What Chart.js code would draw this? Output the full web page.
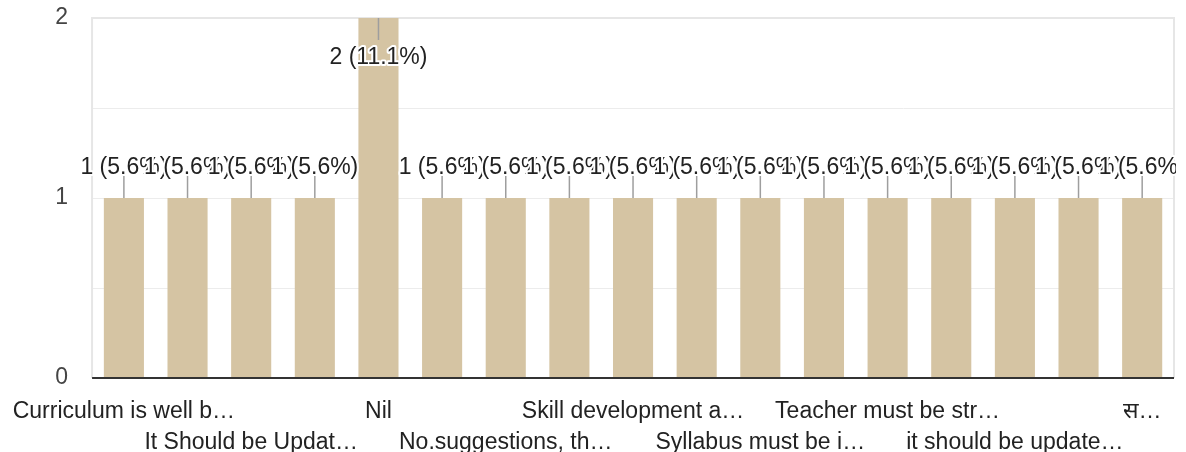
<!DOCTYPE html>
<html>
<head>
<meta charset="utf-8">
<title>Responses</title>
<script src="https://cdn.jsdelivr.net/npm/chart.js@4.4.1/dist/chart.umd.min.js"></script>
<style>
    html, body { margin: 0; padding: 0; background: #fff; }
    #wrap { width: 1186px; height: 452px; }
</style>
</head>
<body>
<div id="wrap"><canvas id="answersChart" width="1186" height="452"></canvas></div>
<script>
// answers (labels as shown, already cut by the form); odd ones are hidden on the axis
const categories = [
    'Curriculum is well b\u2026', 'Good', 'It Should be Updat\u2026', 'Need more practicals',
    'Nil', 'No', 'No.suggestions, th\u2026', 'Nothing', 'Skill development a\u2026',
    'Syllabus is good', 'Syllabus must be i\u2026', 'Syllabus should be practical',
    'Teacher must be str\u2026', 'Very good', 'it should be update\u2026', 'no suggestion',
    '\u0938\u2026'
];
const counts = [1, 1, 1, 1, 2, 1, 1, 1, 1, 1, 1, 1, 1, 1, 1, 1, 1];
const yTicks = [0, 1, 2];

const FONT = "'Liberation Sans', Arial, 'Noto Sans', 'DejaVu Sans', sans-serif";
const total = counts.reduce((a, b) => a + b, 0);

// frame round the plot + dark zero line
const framePlugin = {
    id: 'frame',
    beforeDatasetsDraw(chart) {
        const a = chart.chartArea;
        const ctx = chart.ctx;
        ctx.save();
        ctx.strokeStyle = '#e6e6e6';
        ctx.lineWidth = 2;
        ctx.beginPath();
        ctx.moveTo(a.left, a.bottom);
        ctx.lineTo(a.left, a.top);
        ctx.lineTo(a.right, a.top);
        ctx.lineTo(a.right, a.bottom);
        ctx.stroke();
        ctx.restore();
    },
    afterDatasetsDraw(chart) {
        const a = chart.chartArea;
        const y0 = chart.scales.y.getPixelForValue(0);
        const ctx = chart.ctx;
        ctx.save();
        ctx.strokeStyle = '#333';
        ctx.lineWidth = 2;
        ctx.beginPath();
        ctx.moveTo(a.left, y0);
        ctx.lineTo(a.right, y0);
        ctx.stroke();
        ctx.restore();
    }
};

// "n (x%)" labels with a small leader line, cut at the right edge of the plot
const valueLabels = {
    id: 'valueLabels',
    afterDraw(chart) {
        const ctx = chart.ctx;
        const a = chart.chartArea;
        const bars = chart.getDatasetMeta(0).data;
        ctx.save();
        ctx.beginPath();
        ctx.rect(0, 0, a.right + 2, chart.height);
        ctx.clip();
        ctx.font = '23px ' + FONT;
        ctx.textAlign = 'center';
        ctx.textBaseline = 'middle';
        ctx.lineJoin = 'round';
        bars.forEach((bar, i) => {
            const v = counts[i];
            const text = v + ' (' + (v / total * 100).toFixed(1) + '%)';
            const inside = bar.y - a.top < 45;
            const lineEnd = inside ? bar.y + 22 : bar.y - 22;
            const textY = inside ? bar.y + 40 : bar.y - 30;

            ctx.strokeStyle = '#9e9e9e';
            ctx.lineWidth = 1.5;
            ctx.beginPath();
            ctx.moveTo(bar.x, bar.y);
            ctx.lineTo(bar.x, lineEnd);
            ctx.stroke();

            ctx.strokeStyle = '#fff';
            ctx.lineWidth = 4;
            ctx.strokeText(text, bar.x, textY);
            ctx.fillStyle = '#222';
            ctx.fillText(text, bar.x, textY);
        });
        ctx.restore();
    }
};

new Chart(document.getElementById('answersChart').getContext('2d'), {
    type: 'bar',
    data: {
        labels: categories,
        datasets: [{
            data: counts,
            backgroundColor: '#d5c4a3',
            borderWidth: 0,
            categoryPercentage: 1,
            barPercentage: 0.63
        }]
    },
    options: {
        responsive: false,
        animation: false,
        layout: { padding: { top: 18, right: 12, left: 0, bottom: 0 } },
        plugins: {
            legend: { display: false },
            tooltip: { enabled: false }
        },
        scales: {
            x: {
                grid: { display: false },
                border: { display: false },
                afterFit: function(scale) { scale.height = 74; },
                ticks: {
                    autoSkip: false,
                    maxRotation: 0,
                    minRotation: 0,
                    padding: 10,
                    color: '#222',
                    font: { family: FONT, size: 23, lineHeight: 1.35 },
                    callback: function(value, index) {
                        const name = categories[index];
                        if (index % 2 === 1) return '';
                        return index % 4 === 0 ? name : ['', name];
                    }
                }
            },
            y: {
                min: 0,
                max: 2,
                afterFit: function(scale) {
                    scale.width = 92;
                    scale.paddingTop = 0;
                    scale.paddingBottom = 0;
                },
                afterBuildTicks: function(scale) {
                    scale.ticks = [0, 0.5, 1, 1.5, 2].map(v => ({ value: v }));
                },
                border: { display: false },
                grid: {
                    drawTicks: false,
                    color: ctx => ctx.tick.value === 0 ? 'transparent' : '#ececec',
                    lineWidth: 1
                },
                ticks: {
                    padding: 24,
                    color: '#444',
                    font: { family: FONT, size: 23 },
                    callback: function(value) {
                        return yTicks.includes(value) ? String(value) : '';
                    }
                }
            }
        }
    },
    plugins: [framePlugin, valueLabels]
});
</script>
</body>
</html>
